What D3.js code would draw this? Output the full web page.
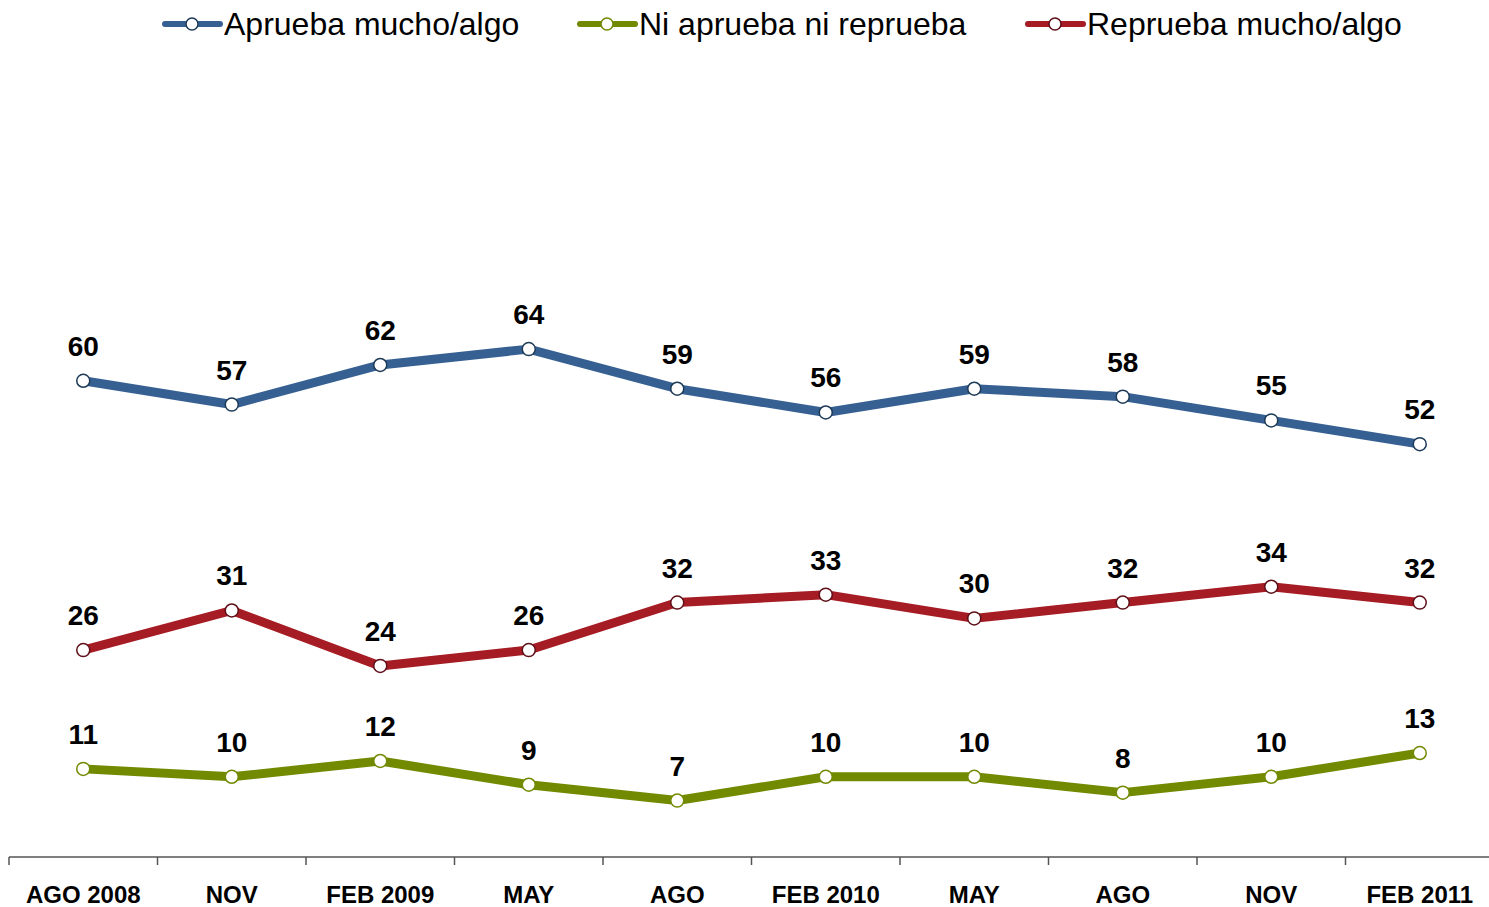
<!DOCTYPE html>
<meta charset="utf-8">
<style>
body { margin: 0; background: #fff; }
svg { display: block; font-family: "Liberation Sans", Arial, sans-serif; }
.axis path, .axis line { stroke: #555; stroke-width: 1.5px; }
.axis text { font-weight: bold; fill: #000; }
.line { fill: none; stroke-width: 9px; stroke-linejoin: round; }
.val { font-weight: bold; font-size: 28px; text-anchor: middle; fill: #000; }
.leg { font-size: 32px; fill: #000; }
</style>
<body>
<svg width="1489" height="907"></svg>
<script src="https://d3js.org/d3.v7.min.js"></script>
<script>
var periods = ["AGO 2008", "NOV", "FEB 2009", "MAY", "AGO", "FEB 2010", "MAY", "AGO", "NOV", "FEB 2011"];
var aprueba = [60, 57, 62, 64, 59, 56, 59, 58, 55, 52];
var ni = [11, 10, 12, 9, 7, 10, 10, 8, 10, 13];
var reprueba = [26, 31, 24, 26, 32, 33, 30, 32, 34, 32];

var series = [
  {name: "Aprueba mucho/algo", values: aprueba, color: "#376092", dot: "#1d3a56"},
  {name: "Ni aprueba ni reprueba", values: ni, color: "#718a00", dot: "#718a00"},
  {name: "Reprueba mucho/algo", values: reprueba, color: "#a51c24", dot: "#5e0f18"}
];

var svg = d3.select("svg");

var x = d3.scaleBand().domain(d3.range(periods.length)).range([9, 1494]);
var y = d3.scaleLinear().domain([0, 100]).range([856, 64]);

var axis = svg.append("g")
    .attr("class", "axis")
    .attr("transform", "translate(0,857)")
    .call(d3.axisBottom(x).tickSize(0).tickFormat(function(i) { return periods[i]; }));
axis.select(".domain").attr("d", "M9,0H1489");
axis.selectAll("text").attr("dy", 0).attr("y", 46).style("font-size", "24px");

// separators between categories
svg.append("g").attr("class", "axis").selectAll("line")
    .data(d3.range(periods.length))
    .enter().append("line")
    .attr("x1", function(i) { return x(i); })
    .attr("x2", function(i) { return x(i); })
    .attr("y1", 857).attr("y2", 865);

var line = d3.line()
    .x(function(d, i) { return x(i) + x.bandwidth() / 2; })
    .y(function(d) { return y(d); });

series.forEach(function(s) {
  var g = svg.append("g");
  g.append("path")
      .attr("class", "line")
      .attr("d", line(s.values))
      .style("stroke", s.color);
  g.selectAll("circle")
      .data(s.values)
      .enter().append("circle")
      .attr("cx", function(d, i) { return x(i) + x.bandwidth() / 2; })
      .attr("cy", function(d) { return y(d); })
      .attr("r", 6.5)
      .style("fill", "#fff")
      .style("stroke", s.dot)
      .style("stroke-width", 1.5);
  g.selectAll(".val")
      .data(s.values)
      .enter().append("text")
      .attr("class", "val")
      .attr("x", function(d, i) { return x(i) + x.bandwidth() / 2; })
      .attr("y", function(d) { return y(d) - 25; })
      .text(function(d) { return d; });
});

// legend
var legX = [165, 580, 1028];
series.forEach(function(s, i) {
  var lg = svg.append("g").attr("transform", "translate(" + legX[i] + ",24)");
  lg.append("line").attr("x1", 0).attr("x2", 55).attr("y1", 0).attr("y2", 0)
      .style("stroke", s.color).style("stroke-width", 6).style("stroke-linecap", "round");
  lg.append("circle").attr("cx", 27).attr("cy", 0).attr("r", 6)
      .style("fill", "#fff").style("stroke", s.dot).style("stroke-width", 1.5);
  lg.append("text").attr("class", "leg").attr("x", 59).attr("y", 11).text(s.name);
});
</script>
</body>
